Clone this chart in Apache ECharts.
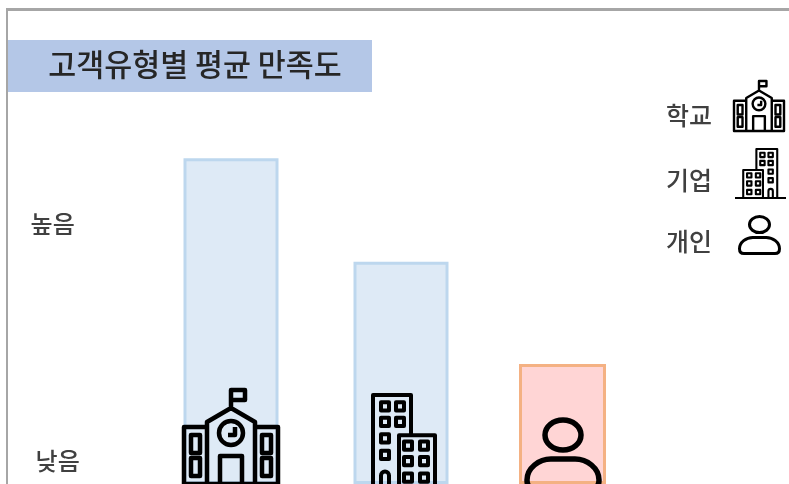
<!DOCTYPE html>
<html>
<head>
<meta charset="utf-8">
<style>
  html, body { margin: 0; padding: 0; background: #fff; overflow: hidden; }
  #main { width: 789px; height: 484px; }
</style>
<script src="https://cdn.jsdelivr.net/npm/echarts@6/dist/echarts.min.js"></script>
</head>
<body>
<div id="main"></div>
<script>
var titleText = '고객유형별 평균 만족도'
var categories = ['학교', '기업', '개인']
var blueValues = [67.3, 45.9, null]
var pinkValues = [null, null, 24.8]
var tickValues = [4.8, 53.7]
var tickLabels = ['낮음', '높음']

var krFont = '"Noto Sans CJK KR", "Noto Sans", sans-serif'

function rect(x, y, w, h) {
    return 'M' + x + ' ' + y + 'L' + (x + w) + ' ' + y + 'L' + (x + w) + ' ' + (y + h) + 'L' + x + ' ' + (y + h) + 'Z'
}

// 아이콘 경로
var schoolPath = 'M23 37L0 37L0 94L94 94L94 37L71 37'
    + 'M23 94L23 32L47 18L71 32L71 94'
    + 'M47 18L47 0L61 0L61 10L47 10'
    + 'M59 43A12 12 0 1 1 35 43A12 12 0 1 1 59 43Z'
    + 'M51 37L51 45L44 45'
    + 'M36 94L36 66L58 66L58 94'
    + rect(7, 45, 9, 18) + rect(7, 68, 9, 18)
    + rect(78, 45, 9, 18) + rect(78, 68, 9, 18)

// 범례 쪽 건물은 좌우가 뒤집혀 있음
function buildingPath(flip) {
    var W = 93
    var fx = function (x) { return flip ? W - x : x }
    var box = function (x, y, w, h) { return rect(flip ? W - x - w : x, y, w, h) }
    var s = 'M' + fx(0) + ' 91L' + fx(93) + ' 91'
    s += 'M' + fx(42) + ' 91L' + fx(42) + ' 39L' + fx(78) + ' 39L' + fx(78) + ' 91'
    s += 'M' + fx(54) + ' 39L' + fx(54) + ' 0L' + fx(16) + ' 0L' + fx(16) + ' 91'
    var rows = [7, 22, 38, 54]
    rows.forEach(function (y) { s += box(24, y, 8, 8) })
    rows.slice(0, 2).forEach(function (y) { s += box(39, y, 8, 8) })
    ;[45, 60, 76].forEach(function (y) {
        s += box(47, y, 8, 8)
        s += box(63, y, 8, 8)
    })
    s += 'M' + fx(24) + ' 91L' + fx(24) + ' 78A4 4 0 0 ' + (flip ? 0 : 1) + ' ' + fx(32) + ' 78L' + fx(32) + ' 91'
    return s
}

var personPath = 'M54 15A18 15 0 1 1 18 15A18 15 0 1 1 54 15Z'
    + 'M8 69L64 69C70 69 72 65 72 60C72 48 60 39 48 39L24 39C12 39 0 48 0 60C0 65 2 69 8 69Z'

var icons = [
    // 범례
    { path: schoolPath, x: 734, y: 81, w: 50, h: 50, lw: 2.4 },
    { path: buildingPath(true), x: 735, y: 149, w: 51, h: 49, lw: 2.1 },
    { path: personPath, x: 739.5, y: 216.5, w: 40, h: 37, lw: 3 },
    // 막대 위
    { path: schoolPath, x: 184, y: 390, w: 94, h: 94, lw: 4.5 },
    { path: buildingPath(false), x: 357, y: 395, w: 93, h: 94, lw: 4 },
    { path: personPath, x: 527, y: 420, w: 72, h: 69, lw: 5.5 }
]

function label(text, x, y) {
    return {
        type: 'text',
        z: 10,
        x: x,
        y: y,
        style: { text: text, fill: '#404040', font: '500 25px ' + krFont, textAlign: 'left', textVerticalAlign: 'middle' }
    }
}

var myChart = echarts.init(document.getElementById('main'), null, { renderer: 'canvas' })
myChart.setOption({
    animation: false,
    title: {
        text: titleText,
        left: 190,
        top: 39,
        textAlign: 'center',
        textStyle: { fontFamily: krFont, fontSize: 30.4, fontWeight: 500, color: '#262626', lineHeight: 40 }
    },
    grid: { left: 139.75, width: 510, top: 0, height: 484 },
    xAxis: {
        type: 'category',
        data: categories,
        show: false
    },
    yAxis: {
        type: 'value',
        min: 0,
        max: 100,
        axisLine: { show: false },
        axisTick: { show: false },
        splitLine: { show: false },
        axisLabel: {
            customValues: tickValues,
            margin: 60,
            color: '#404040',
            fontFamily: krFont,
            fontSize: 24,
            fontWeight: 500,
            formatter: function (v) {
                return v === tickValues[1] ? '{hi|' + tickLabels[1] + '}' : tickLabels[0]
            },
            rich: { hi: { padding: [0, 5, 0, 0], color: '#404040', fontFamily: krFont, fontSize: 24, fontWeight: 500 } }
        }
    },
    series: [
        {
            type: 'bar',
            data: blueValues,
            barWidth: 95,
            barGap: '-104.74%',
            itemStyle: { color: '#deeaf6', borderColor: '#bdd7ee', borderWidth: 3 }
        },
        {
            type: 'bar',
            data: pinkValues,
            barWidth: 87,
            itemStyle: { color: '#ffd5d5', borderColor: '#f4b183', borderWidth: 3 }
        },
        {
            type: 'custom',
            coordinateSystem: 'none',
            z: 5,
            silent: true,
            data: icons.map(function (d, i) { return i }),
            renderItem: function (params) {
                var d = icons[params.dataIndex]
                return {
                    type: 'path',
                    shape: { pathData: d.path, layout: 'cover', x: d.x, y: d.y, width: d.w, height: d.h },
                    style: { fill: 'none', stroke: '#000', lineWidth: d.lw, lineJoin: 'round' }
                }
            }
        }
    ],
    graphic: [
        // 테두리
        { type: 'rect', shape: { x: 6, y: 8, width: 783, height: 3 }, style: { fill: '#a6a6a6' } },
        { type: 'rect', shape: { x: 6, y: 8, width: 2, height: 476 }, style: { fill: '#a6a6a6' } },
        // 제목 배경
        { type: 'rect', z: -1, shape: { x: 8, y: 40, width: 364, height: 52 }, style: { fill: '#b4c7e7' } },
        // 범례 글자
        label(categories[0], 666, 115),
        label(categories[1], 666, 180),
        label(categories[2], 666, 241)
    ]
})
</script>
</body>
</html>
